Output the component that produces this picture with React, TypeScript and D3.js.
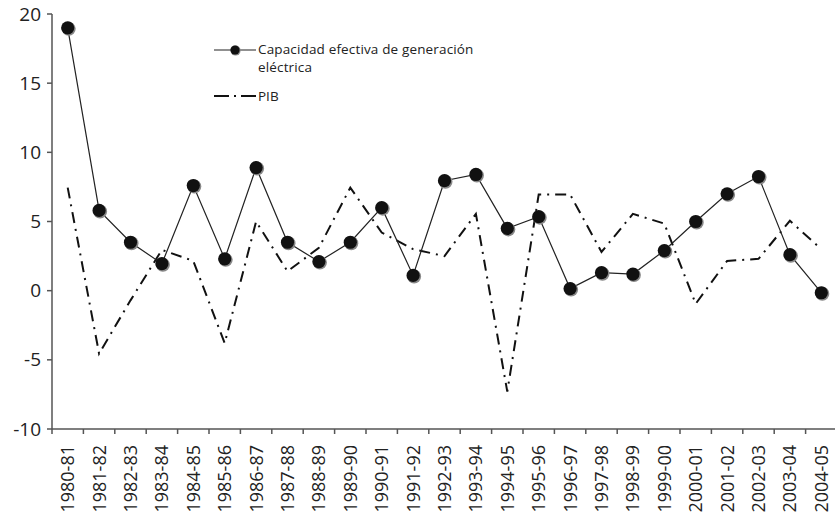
import React from "react";
import * as d3 from "d3";

const periods = [
  "1980-81", "1981-82", "1982-83", "1983-84", "1984-85", "1985-86", "1986-87",
  "1987-88", "1988-89", "1989-90", "1990-91", "1991-92", "1992-93", "1993-94",
  "1994-95", "1995-96", "1996-97", "1997-98", "1998-99", "1999-00", "2000-01",
  "2001-02", "2002-03", "2003-04", "2004-05",
];

// Capacidad efectiva de generación eléctrica (%)
const capacidad = [
  19.0, 5.8, 3.5, 1.95, 7.6, 2.3, 8.9, 3.5, 2.1, 3.5, 6.0, 1.1, 7.95, 8.4,
  4.5, 5.35, 0.15, 1.3, 1.2, 2.9, 5.0, 7.0, 8.25, 2.6, -0.15,
];

// PIB (%)
const pib = [
  7.45, -4.55, -0.7, 2.95, 2.15, -3.8, 5.0, 1.4, 3.1, 7.45, 4.2, 3.0, 2.5,
  5.55, -7.3, 6.95, 6.95, 2.8, 5.55, 4.85, -0.95, 2.15, 2.3, 5.05, 3.0,
];

const yTicks = [-10, -5, 0, 5, 10, 15, 20];

const W = 835;
const H = 525;
const left = 52;
const right = 837;
const top = 14;
const bottom = 429;
const font = "'Open Sans', 'Lato', sans-serif";

const App = () => {
  const x = d3.scaleBand<string>().domain(periods).range([left, right]);
  const y = d3.scaleLinear().domain([-10, 20]).range([bottom, top]);
  const cx = (i: number) => (x(periods[i]) as number) + x.bandwidth() / 2;

  const line = d3
    .line<number>()
    .x((_, i) => cx(i))
    .y((d) => y(d));

  const axisColor = "#555";

  return (
    <svg
      width={W}
      height={H}
      style={{ position: "absolute", left: 0, top: 0, background: "#fff" }}
      fontFamily={font}
    >
      {/* y axis */}
      <line x1={left} x2={left} y1={top} y2={bottom} stroke={axisColor} strokeWidth={1.5} />
      {yTicks.map((t) => (
        <g key={t}>
          <line x1={left - 5} x2={left} y1={y(t)} y2={y(t)} stroke={axisColor} strokeWidth={1.5} />
          <text x={left - 11} y={y(t)} dy="0.35em" textAnchor="end" fontSize={19} fill="#222">
            {t}
          </text>
        </g>
      ))}

      {/* x axis */}
      <line x1={left} x2={right} y1={bottom} y2={bottom} stroke={axisColor} strokeWidth={1.5} />
      {periods.map((p) => (
        <line
          key={"t" + p}
          x1={x(p) as number}
          x2={x(p) as number}
          y1={bottom}
          y2={bottom + 5}
          stroke={axisColor}
          strokeWidth={1.5}
        />
      ))}
      {periods.map((p, i) => (
        <text
          key={"l" + p}
          transform={`translate(${cx(i) + 6.5},${bottom + 16}) rotate(-90)`}
          textAnchor="end"
          fontSize={18}
          fill="#222"
        >
          {p}
        </text>
      ))}

      {/* PIB */}
      <path
        d={line(pib) as string}
        fill="none"
        stroke="#111"
        strokeWidth={2}
        strokeDasharray="11,6,2,6"
      />

      {/* Capacidad */}
      <path d={line(capacidad) as string} fill="none" stroke="#222" strokeWidth={1.2} />
      {capacidad.map((v, i) => (
        <g key={"c" + i}>
          <circle cx={cx(i) + 1} cy={y(v) + 1} r={7} fill="#888" />
          <circle cx={cx(i)} cy={y(v)} r={6.6} fill="#111" />
        </g>
      ))}

      {/* legend */}
      <line x1={214} x2={256} y1={50} y2={50} stroke="#222" strokeWidth={1.2} />
      <circle cx={235.6} cy={50.6} r={5} fill="#888" />
      <circle cx={235} cy={50} r={4.6} fill="#111" />
      <text x={258} y={49} dy="0.35em" fontSize={13.5} fill="#222" letterSpacing={0.15}>
        Capacidad efectiva de generación
      </text>
      <text x={258} y={67.5} dy="0.35em" fontSize={13.5} fill="#222" letterSpacing={0.15}>
        eléctrica
      </text>
      <line
        x1={214}
        x2={256}
        y1={96}
        y2={96}
        stroke="#111"
        strokeWidth={2}
        strokeDasharray="15,5,2,5"
      />
      <text x={258} y={96} dy="0.35em" fontSize={13.5} fill="#222">
        PIB
      </text>
    </svg>
  );
};

export default App;
